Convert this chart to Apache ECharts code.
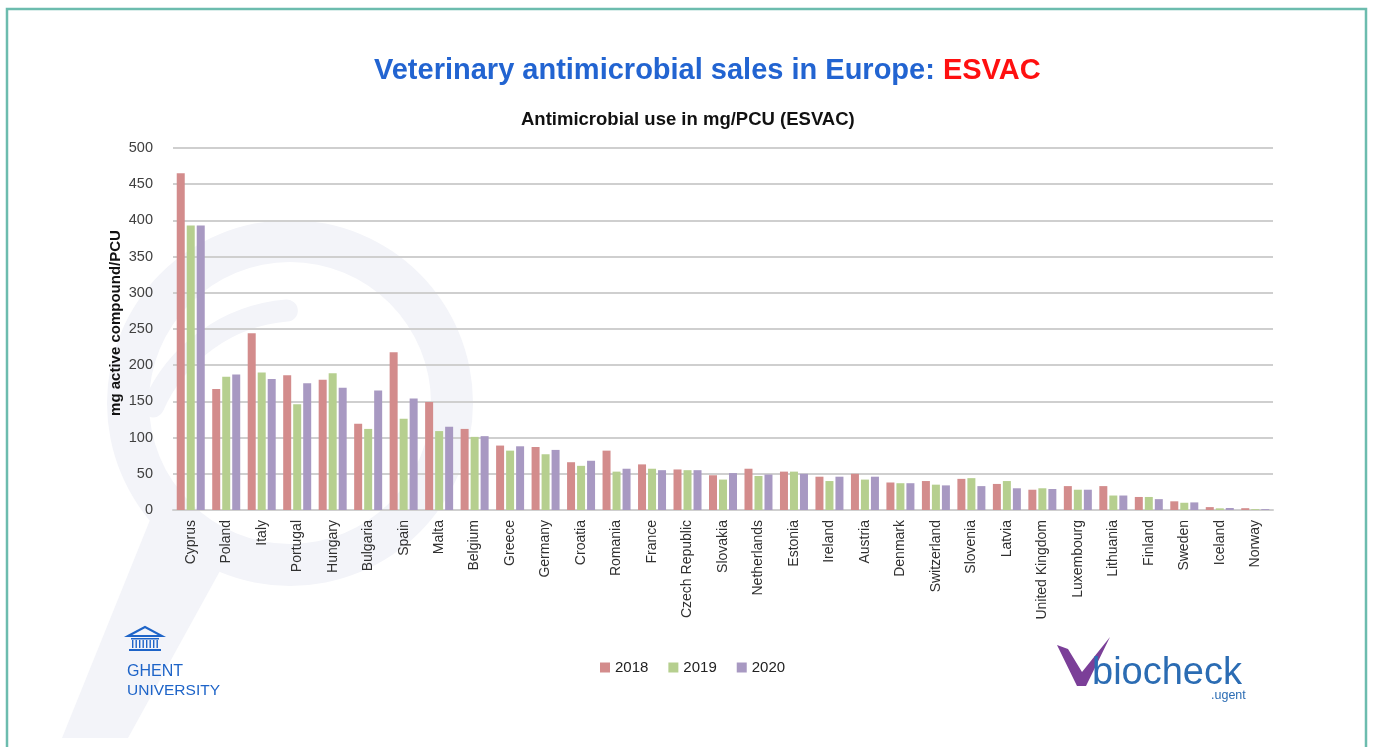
<!DOCTYPE html>
<html>
<head>
<meta charset="utf-8">
<script src="https://cdn.jsdelivr.net/npm/echarts@6/dist/echarts.min.js"></script>
<style>
html,body{margin:0;padding:0;background:#fff;}
#chart{width:1373px;height:747px;}
</style>
</head>
<body>
<div id="chart"></div>
<script>
const countries = ["Cyprus","Poland","Italy","Portugal","Hungary","Bulgaria","Spain","Malta","Belgium","Greece","Germany","Croatia","Romania","France","Czech Republic","Slovakia","Netherlands","Estonia","Ireland","Austria","Denmark","Switzerland","Slovenia","Latvia","United Kingdom","Luxembourg","Lithuania","Finland","Sweden","Iceland","Norway"];
const years = ["2018","2019","2020"];
const values2018 = [465,167,244,186,180,119,218,149,112,89,87,66,82,63,56,48,57,53,46,50,38,40,43,36,28,33,33,18,12,4,2.5];
const values2019 = [393,184,190,146,189,112,126,109,101,82,77,61,53,57,55,42,47,53,40,42,37,35,44,40,30,28,20,18,10,2.3,1.2];
const values2020 = [393,187,181,175,169,165,154,115,102,88,83,68,57,55,55,51,49,50,46,46,37,34,33,30,29,28,20,15,10.5,2.8,1.2];
const yTicks = [0,50,100,150,200,250,300,350,400,450,500];

const colors = ["#d38c8c","#b6cf8f","#a899c2"];
const wm = "#f3f4f9";
const ghentBlue = "#1e64c8";

const chart = echarts.init(document.getElementById('chart'));
const seriesData = [values2018, values2019, values2020];

chart.setOption({
  animation: false,
  backgroundColor: '#ffffff',
  title: [{
    text: '{a|Veterinary antimicrobial sales in Europe: }{b|ESVAC}',
    left: 369, top: 51,
    textStyle: {
      rich: {
        a: {fontFamily: 'Liberation Sans', fontWeight: 'bold', fontSize: 29, color: '#2264d1'},
        b: {fontFamily: 'Liberation Sans', fontWeight: 'bold', fontSize: 29, color: '#ff1010'}
      }
    }
  },{
    text: 'Antimicrobial use in mg/PCU (ESVAC)',
    left: 516, top: 105,
    textStyle: {fontFamily: 'Liberation Sans', fontWeight: 'bold', fontSize: 18.5, color: '#111'}
  }],
  legend: {
    data: years,
    left: 595, top: 655,
    itemWidth: 10, itemHeight: 10, itemGap: 20,
    icon: 'rect',
    textStyle: {fontFamily: 'Liberation Sans', fontSize: 15, color: '#222'}
  },
  grid: {left: 173, right: 100, top: 148, bottom: 237},
  xAxis: {
    type: 'category',
    data: countries,
    axisTick: {show: false},
    axisLine: {lineStyle: {color: '#cfcfcf', width: 2}},
    axisLabel: {rotate: 90, interval: 0, margin: 10, fontFamily: 'Liberation Sans', fontSize: 14, color: '#303030'}
  },
  yAxis: {
    type: 'value',
    min: 0, max: 500, interval: 50,
    name: 'mg active compound/PCU',
    nameLocation: 'middle',
    nameGap: 50,
    nameMoveOverlap: false,
    nameTextStyle: {fontFamily: 'Liberation Sans', fontWeight: 'bold', fontSize: 15, color: '#111', padding: [0,0,0,12]},
    axisLine: {show: false},
    axisTick: {show: false},
    axisLabel: {margin: 20, fontFamily: 'Liberation Sans', fontSize: 14.5, color: '#404040',
      formatter: function(v){ return yTicks.indexOf(v) >= 0 ? String(v) : ''; }},
    splitLine: {lineStyle: {color: '#cfcfcf', width: 2}}
  },
  series: years.map((y, i) => ({
    name: y,
    type: 'bar',
    data: seriesData[i],
    barWidth: 8,
    barGap: '25%',
    itemStyle: {color: colors[i]}
  })),
  graphic: {
    elements: [
      // watermark magnifier
      {type: 'ring', z: -10, silent: true, shape: {cx: 290, cy: 403, r: 183, r0: 141}, style: {fill: wm}},
      {type: 'polygon', z: -10, silent: true, shape: {points: [[152,515],[226,560],[128,738],[62,738]]}, style: {fill: wm}},
      {type: 'arc', z: -10, silent: true, shape: {cx: 300, cy: 470, r: 160, startAngle: 3.55, endAngle: 4.63}, style: {stroke: wm, lineWidth: 22, fill: null, lineCap: 'round'}},
      // frame
      {type: 'rect', z: 100, silent: true, shape: {x: 7, y: 9, width: 1359, height: 780}, style: {fill: null, stroke: '#6cbcae', lineWidth: 2.5}},
      // Ghent logo
      {type: 'polygon', silent: true, shape: {points: [[128,636],[145,627],[162,636]]}, style: {fill: null, stroke: ghentBlue, lineWidth: 2}},
      {type: 'rect', silent: true, shape: {x: 131, y: 638, width: 28, height: 1.5}, style: {fill: ghentBlue}},
      {type: 'rect', silent: true, shape: {x: 132, y: 640, width: 1.4, height: 8}, style: {fill: ghentBlue}},
      {type: 'rect', silent: true, shape: {x: 135.5, y: 640, width: 1.4, height: 8}, style: {fill: ghentBlue}},
      {type: 'rect', silent: true, shape: {x: 139, y: 640, width: 1.4, height: 8}, style: {fill: ghentBlue}},
      {type: 'rect', silent: true, shape: {x: 142.5, y: 640, width: 1.4, height: 8}, style: {fill: ghentBlue}},
      {type: 'rect', silent: true, shape: {x: 146, y: 640, width: 1.4, height: 8}, style: {fill: ghentBlue}},
      {type: 'rect', silent: true, shape: {x: 149.5, y: 640, width: 1.4, height: 8}, style: {fill: ghentBlue}},
      {type: 'rect', silent: true, shape: {x: 153, y: 640, width: 1.4, height: 8}, style: {fill: ghentBlue}},
      {type: 'rect', silent: true, shape: {x: 156.5, y: 640, width: 1.4, height: 8}, style: {fill: ghentBlue}},
      {type: 'rect', silent: true, shape: {x: 129, y: 649, width: 32, height: 2}, style: {fill: ghentBlue}},
      {type: 'text', silent: true, style: {x: 127, y: 664, text: 'GHENT', fill: ghentBlue, font: '500 16px "Liberation Sans"'}},
      {type: 'text', silent: true, style: {x: 127, y: 683, text: 'UNIVERSITY', fill: ghentBlue, font: '500 15.5px "Liberation Sans"'}},
      // biocheck logo
      {type: 'polygon', silent: true, shape: {points: [[1057,645],[1068,649],[1082,672],[1110,637],[1086,686],[1077,686]]}, style: {fill: '#7b3f98'}},
      {type: 'text', silent: true, style: {x: 1092, y: 655, text: 'biocheck', fill: '#2b6cb3', font: '38px "Liberation Sans"'}},
      {type: 'text', silent: true, style: {x: 1211, y: 689, text: '.ugent', fill: '#2b6cb3', font: '12.5px "Liberation Sans"'}}
    ]
  }
});
</script>
</body>
</html>
